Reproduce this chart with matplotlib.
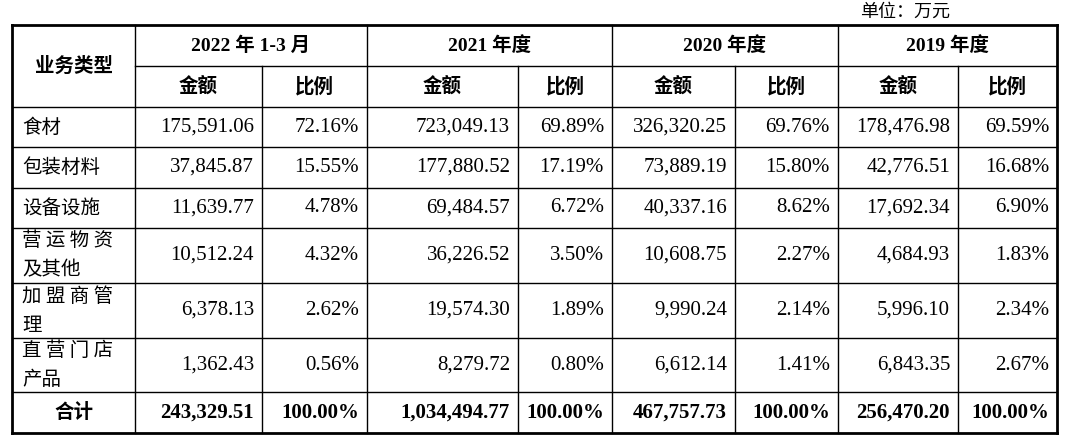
import matplotlib.pyplot as plt

# 数据
periods = ["2022 年 1-3 月", "2021 年度", "2020 年度", "2019 年度"]
categories = ["食材", "包装材料", "设备设施", "营 运 物 资\n及其他", "加 盟 商 管\n理", "直 营 门 店\n产品"]
amount_2022 = ["175,591.06", "37,845.87", "11,639.77", "10,512.24", "6,378.13", "1,362.43"]
ratio_2022 = ["72.16%", "15.55%", "4.78%", "4.32%", "2.62%", "0.56%"]
amount_2021 = ["723,049.13", "177,880.52", "69,484.57", "36,226.52", "19,574.30", "8,279.72"]
ratio_2021 = ["69.89%", "17.19%", "6.72%", "3.50%", "1.89%", "0.80%"]
amount_2020 = ["326,320.25", "73,889.19", "40,337.16", "10,608.75", "9,990.24", "6,612.14"]
ratio_2020 = ["69.76%", "15.80%", "8.62%", "2.27%", "2.14%", "1.41%"]
amount_2019 = ["178,476.98", "42,776.51", "17,692.34", "4,684.93", "5,996.10", "6,843.35"]
ratio_2019 = ["69.59%", "16.68%", "6.90%", "1.83%", "2.34%", "2.67%"]
total_row = ["243,329.51", "100.00%", "1,034,494.77", "100.00%",
             "467,757.73", "100.00%", "256,470.20", "100.00%"]

cols = [amount_2022, ratio_2022, amount_2021, ratio_2021,
        amount_2020, ratio_2020, amount_2019, ratio_2019]

# 版面 (像素坐标)
xs = [12, 135, 262, 367, 518, 612, 735, 838, 958, 1057]
ys = [25, 66, 107, 147, 188, 228, 283, 338, 392, 433]

cjk = ['Noto Sans CJK SC', 'DejaVu Sans']
serif = ['Liberation Serif', 'Noto Sans CJK SC']

fig = plt.figure(figsize=(10.7, 4.45), dpi=100)
ax = fig.add_axes([0, 0, 1, 1])
ax.set_xlim(0, 1070)
ax.set_ylim(445, 0)
ax.axis('off')

lw = 1.0
# 横线
for i, y in enumerate(ys):
    if i == 1:
        ax.plot([xs[1], xs[-1]], [y, y], 'k-', lw=lw)
    else:
        ax.plot([xs[0], xs[-1]], [y, y], 'k-', lw=2.0 if i in (0, len(ys) - 1) else lw)
# 竖线：期间内部的分隔线只从第二行表头开始
for j, x in enumerate(xs):
    if j in (2, 4, 6, 8):
        ax.plot([x, x], [ys[1], ys[-1]], 'k-', lw=lw)
    else:
        ax.plot([x, x], [ys[0], ys[-1]], 'k-', lw=2.0 if j in (0, len(xs) - 1) else lw)

ax.text(950, 12, "单位：万元", ha='right', va='center', fontsize=13, family=cjk)

# 表头
ax.text((xs[0] + xs[1]) / 2, (ys[0] + ys[2]) / 2, "业务类型", ha='center', va='center',
        fontsize=14, family=cjk, weight='bold')
for k, p in enumerate(periods):
    x0, x1 = xs[1 + 2 * k], xs[3 + 2 * k]
    ax.text((x0 + x1) / 2, (ys[0] + ys[1]) / 2, p, ha='center', va='center',
            fontsize=14, family=serif, weight='bold')
    for m, lab in enumerate(["金额", "比例"]):
        ax.text((xs[1 + 2 * k + m] + xs[2 + 2 * k + m]) / 2, (ys[1] + ys[2]) / 2, lab,
                ha='center', va='center', fontsize=14, family=cjk, weight='bold')

# 数据行
for r, cat in enumerate(categories):
    yc = (ys[2 + r] + ys[3 + r]) / 2
    ax.text(xs[0] + 10, yc, cat, ha='left', va='center', fontsize=14, family=cjk,
            linespacing=1.5)
    for c, col in enumerate(cols):
        ax.text(xs[2 + c] - 8, yc, col[r], ha='right', va='center', fontsize=15, family=serif)

# 合计
yc = (ys[-2] + ys[-1]) / 2
ax.text((xs[0] + xs[1]) / 2, yc, "合计", ha='center', va='center', fontsize=14,
        family=cjk, weight='bold')
for c, v in enumerate(total_row):
    ax.text(xs[2 + c] - 8, yc, v, ha='right', va='center', fontsize=15, family=serif,
            weight='bold')

fig.savefig('out.png', dpi=100)
